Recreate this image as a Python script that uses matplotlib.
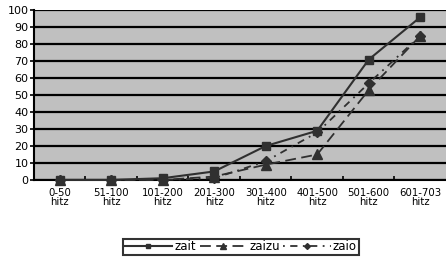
import matplotlib.pyplot as plt
import numpy as np

# === datos ===
categorias = ["0-50\nhitz", "51-100\nhitz", "101-200\nhitz", "201-300\nhitz",
              "301-400\nhitz", "401-500\nhitz", "501-600\nhitz", "601-703\nhitz"]
zait = [0, 0, 1, 5, 20, 29, 71, 96]
zaizu = [0, 0, 0, 2, 9, 15, 53, 85]
zaio = [0, 0, 0, 1, 11, 28, 57, 85]

x = np.arange(len(categorias))

fig = plt.figure(figsize=(4.46, 2.6), dpi=100)
ax = fig.add_axes([0.076, 0.308, 0.924, 0.652])

color = "#303030"
ax.plot(x, zait, color=color, lw=1.5, marker="s", ms=6, label="zait", clip_on=False, zorder=4)
ax.plot(x, zaizu, color=color, lw=1.3, ls=(0, (6, 3)), marker="^", ms=6.5, label="zaizu",
        clip_on=False, zorder=3)
ax.plot(x, zaio, color=color, lw=1.3, ls=(0, (1, 3, 4, 3)), marker="D", ms=5, label="zaio",
        clip_on=False, zorder=3)

ax.set_facecolor("#c0c0c0")
ax.set_xlim(-0.5, len(categorias) - 0.5)
ax.set_ylim(0, 100)
ax.set_yticks(range(0, 101, 10))
ax.yaxis.grid(True, color="black", lw=1.6)
ax.set_axisbelow(True)

ax.set_xticks(x)
ax.set_xticklabels(categorias, fontsize=7.3, linespacing=0.9)
ax.set_xticks(np.arange(0.5, len(categorias) - 0.5, 1), minor=True)
ax.tick_params(axis="x", which="major", length=0, pad=6)
ax.tick_params(axis="x", which="minor", length=3, width=1.2, direction="in")
ax.tick_params(axis="y", labelsize=8, length=3, width=1.2, pad=1)

for s in ["top", "right"]:
    ax.spines[s].set_visible(False)
ax.spines["left"].set_linewidth(1.5)
ax.spines["bottom"].set_linewidth(1.5)

leg = fig.legend(loc="center", bbox_to_anchor=(0.54, 0.05), ncol=3, fontsize=8.5,
                 frameon=True, fancybox=False, handlelength=4, handletextpad=0.2,
                 columnspacing=0.3, borderpad=0.15, edgecolor="black", markerscale=0.6)
leg.get_frame().set_linewidth(1.5)

plt.savefig("out.png", dpi=100)
